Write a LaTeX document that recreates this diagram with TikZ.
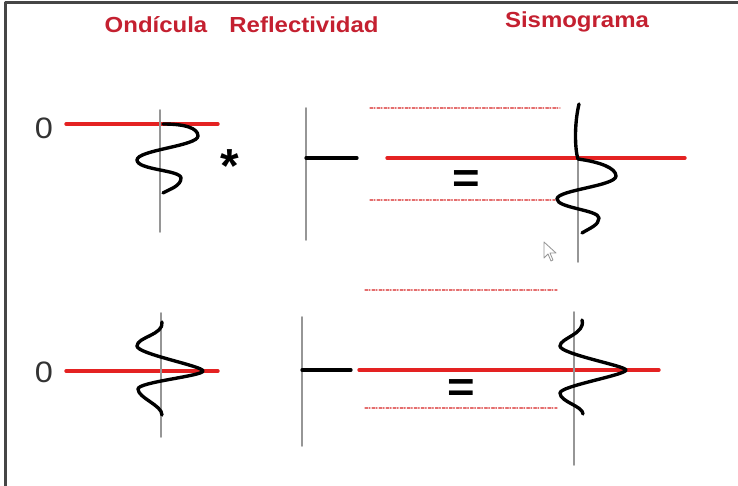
\documentclass[tikz,border=0pt]{standalone}
\usepackage{fontspec}
\setmainfont{Liberation Sans}
\definecolor{titlered}{RGB}{196,32,48}
\definecolor{linered}{RGB}{228,34,34}
\definecolor{dotred}{RGB}{228,110,110}
\definecolor{axisgray}{RGB}{150,150,150}
\definecolor{framegray}{RGB}{70,70,70}
\begin{document}
\begin{tikzpicture}[x=0.025cm,y=-0.025cm,line join=round,line cap=round,
		title/.style={text=titlered,font=\bfseries\fontsize{15.5}{18}\selectfont,xscale=1.1,anchor=base,inner sep=0pt},
		zero/.style={text=black!80,font=\fontsize{21}{24}\selectfont,xscale=1.1,anchor=base,inner sep=0pt},
		eqsign/.style={font=\bfseries\fontsize{30}{30}\selectfont,xscale=1.12,anchor=base,inner sep=0pt},
		redline/.style={linered,line width=2.4pt},
		guide/.style={dotred,line width=0.8pt,dash pattern=on 2pt off 1pt on 0.6pt off 1.4pt},
		axis/.style={axisgray,line width=1.4pt},
		trace/.style={black,line width=2.4pt},
		spike/.style={black,line width=2.3pt}]
		\useasboundingbox (0,0) rectangle (738,486);
		% marco
		\draw[framegray,line width=1.5pt] (5.5,486)--(5.5,2.5)--(738,2.5);
		% titulos
		\node[title] (tond) at (156,33) {Ondícula};
		\node[title] (tref) at (304,33) {Reflectividad};
		\node[title] (tsis) at (577,28) {Sismograma};
		% fila superior
		\node[zero] (cero1) at (44,139) {0};
		\draw[redline] (66,124)--(218,124);
		\draw[axis] (160,110)--(160,232);
		\draw[trace] (163,124) .. controls (185,124) and (198,128) .. (198,136)
			.. controls (198,146) and (137,150) .. (137,160)
			.. controls (137,170) and (181,170) .. (181,178)
			.. controls (181,186) and (170,189) .. (163,193);
		\node[font=\bfseries\fontsize{34}{34}\selectfont,anchor=base,inner sep=0pt] (conv) at (230,183) {*};
		\draw[axis] (306,108)--(306,240);
		\draw[spike] (306,158)--(357,158);
		\draw[guide] (370,108)--(560,108);
		\draw[guide] (370,200)--(555,200);
		\draw[redline] (387,158)--(685,158);
		\node[eqsign] (igual1) at (466,193) {=};
		\draw[axis] (578,157)--(578,262);
		\draw[trace] (579,104) .. controls (574,125) and (575,150) .. (578,159)
			.. controls (600,162) and (616,168) .. (616,176)
			.. controls (616,186) and (557,190) .. (557,199)
			.. controls (557,208) and (599,210) .. (599,218)
			.. controls (599,225) and (590,228) .. (582,233);
		% cursor
		\draw[axisgray,line width=0.6pt,fill=white] (544,242)--(544,258)--(548,254)--(551,261)--(553,260)--(550,253)--(556,253)--cycle;
		% fila inferior
		\node[zero] (cero2) at (44,382) {0};
		\draw[redline] (66,371)--(218,371);
		\draw[axis] (161,313)--(161,437);
		\draw[trace] (162,322) .. controls (164,335) and (137,337) .. (137,346)
			.. controls (137,354) and (203,366) .. (203,371)
			.. controls (203,376) and (138,382) .. (138,389)
			.. controls (138,398) and (162,405) .. (162,415);
		\draw[axis] (302,317)--(302,446);
		\draw[spike] (302,370)--(351,370);
		\draw[guide] (365,290)--(557,290);
		\draw[guide] (365,408)--(557,408);
		\draw[redline] (359,370)--(659,370);
		\node[eqsign] (igual2) at (461,401) {=};
		\draw[axis] (574,312)--(574,465);
		\draw[trace] (582,320) .. controls (586,334) and (560,338) .. (560,346)
			.. controls (560,354) and (626,366) .. (626,370)
			.. controls (626,375) and (560,386) .. (560,393)
			.. controls (560,402) and (583,406) .. (583,414);
\end{tikzpicture}
\end{document}
